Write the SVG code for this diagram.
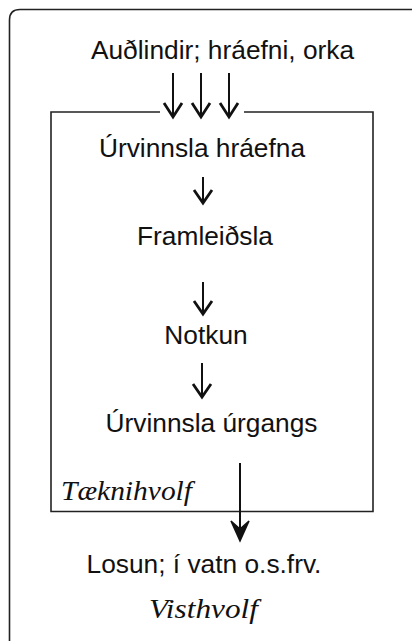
<svg xmlns="http://www.w3.org/2000/svg" width="412" height="641" viewBox="0 0 412 641">
  <style>
    .frame { fill: none; stroke: #222; stroke-width: 1.6; }
    .label { font-family: "Liberation Sans", Arial, sans-serif; font-size: 26.3px; fill: #111; text-anchor: middle; }
    .sphere { font-family: "Liberation Serif", "DejaVu Serif", serif; font-style: italic; font-size: 27px; fill: #111; }
    .shaft { stroke: #111; stroke-width: 2; fill: none; }
    .head { stroke: #111; stroke-width: 2.8; fill: none; stroke-linejoin: miter; stroke-linecap: butt; }
  </style>
  <rect width="412" height="641" fill="#fff"/>

  <!-- outer environment frame (continues past the right and bottom edges) -->
  <g id="visthvolf-frame">
    <path class="frame" d="M9.5,641 V20 Q9.5,9.5 20,9.5 H412"/>
  </g>

  <!-- inner technosphere box, top edge broken where the input arrows enter -->
  <g id="taeknihvolf-box">
    <path class="frame" d="M160,112 H51 V511.5 H373 V112 H244"/>
    <text class="sphere" x="61" y="500" textLength="131" lengthAdjust="spacingAndGlyphs">Tæknihvolf</text>
  </g>

  <g id="node-audlindir">
    <text class="label" x="222.5" y="59">Auðlindir; hráefni, orka</text>
  </g>
  <g id="node-urvinnsla-hraefna">
    <text class="label" x="202" y="157">Úrvinnsla hráefna</text>
  </g>
  <g id="node-framleidsla">
    <text class="label" x="205" y="245">Framleiðsla</text>
  </g>
  <g id="node-notkun">
    <text class="label" x="206" y="344">Notkun</text>
  </g>
  <g id="node-urvinnsla-urgangs">
    <text class="label" x="211.5" y="432">Úrvinnsla úrgangs</text>
  </g>
  <g id="node-losun">
    <text class="label" x="204" y="573">Losun; í vatn o.s.frv.</text>
  </g>
  <g id="node-visthvolf">
    <text class="sphere" x="149" y="618" textLength="109" lengthAdjust="spacingAndGlyphs">Visthvolf</text>
  </g>

  <g id="connectors">
    <!-- three inputs into the technosphere -->
    <line class="shaft" x1="173" y1="73" x2="173" y2="116"/>
    <polyline class="head" points="164,103 173,117 182,103"/>
    <line class="shaft" x1="201" y1="73" x2="201" y2="116"/>
    <polyline class="head" points="192,103 201,117 210,103"/>
    <line class="shaft" x1="229" y1="73" x2="229" y2="116"/>
    <polyline class="head" points="220,103 229,117 238,103"/>

    <!-- process chain -->
    <line class="shaft" x1="203" y1="177" x2="203" y2="202"/>
    <polyline class="head" points="194,190 203,203 212,190"/>
    <line class="shaft" x1="203" y1="282" x2="203" y2="313"/>
    <polyline class="head" points="194,301 203,314 212,301"/>
    <line class="shaft" x1="202" y1="363" x2="202" y2="396"/>
    <polyline class="head" points="193,384 202,397 211,384"/>

    <!-- emission out of the technosphere -->
    <line class="shaft" x1="240" y1="463" x2="240" y2="538"/>
    <path d="M231,521 L240,541 L249,521 L240,529 Z" fill="#111" stroke="#111" stroke-width="1.5" stroke-linejoin="miter"/>
  </g>
</svg>
